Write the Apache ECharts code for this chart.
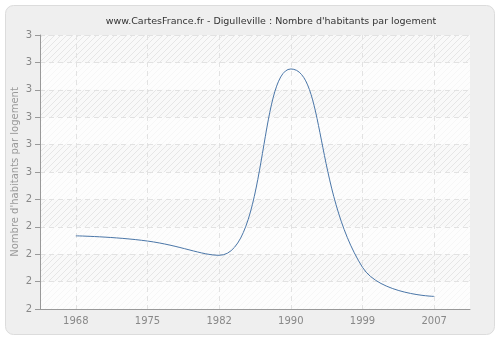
<!DOCTYPE html>
<html><head><meta charset="utf-8">
<script src="https://cdn.jsdelivr.net/npm/echarts@6/dist/echarts.min.js"></script>
<style>html,body{margin:0;padding:0;background:#fff}#c{width:500px;height:340px}</style>
</head><body><div id="c"></div>
<script>
var titleText = "www.CartesFrance.fr - Digulleville : Nombre d'habitants par logement";
var yAxisName = "Nombre d'habitants par logement";
var years = ['1968', '1975', '1982', '1990', '1999', '2007'];
var values = [2.267, 2.248, 2.196, 2.876, 2.152, 2.046];

var pc = document.createElement('canvas');
pc.width = 6; pc.height = 6;
var g = pc.getContext('2d');
g.fillStyle = '#f9f9f9'; g.fillRect(0, 0, 6, 6);
g.strokeStyle = '#e6e6e6'; g.lineWidth = 1;
g.beginPath();
g.moveTo(-1, 7); g.lineTo(7, -1);
g.moveTo(-4, 4); g.lineTo(4, -4);
g.moveTo(2, 10); g.lineTo(10, 2);
g.stroke();

var chart = echarts.init(document.getElementById('c'), null, {renderer: 'canvas'});
chart.setOption({
  animation: false,
  backgroundColor: '#ffffff',
  graphic: [{
    type: 'rect', z: -10, silent: true,
    shape: {x: 5.5, y: 5.5, width: 489, height: 329, r: 8},
    style: {fill: '#efefef', stroke: '#dcdcdc', lineWidth: 1}
  }],
  title: {
    text: titleText, left: 266, top: 12, textAlign: 'center',
    textStyle: {fontFamily: 'DejaVu Sans', fontSize: 9.5, fontWeight: 'normal', color: '#333'}
  },
  grid: {
    left: 40, right: 30, top: 35, bottom: 31, containLabel: false, outerBoundsMode: 'none', show: true,
    backgroundColor: {image: pc, repeat: 'repeat'}, borderWidth: 0
  },
  xAxis: {
    type: 'category', data: years, boundaryGap: true,
    axisLine: {lineStyle: {color: '#999', width: 1}},
    axisTick: {alignWithLabel: true, length: 5, lineStyle: {color: '#999'}},
    axisLabel: {color: '#888', fontFamily: 'DejaVu Sans', fontSize: 10, margin: 7},
    splitLine: {show: true, alignWithLabel: true, lineStyle: {color: '#e2e2e2', type: [5, 4], width: 1}}
  },
  yAxis: {
    type: 'value', min: 2, max: 3, interval: 0.1,
    name: yAxisName, nameLocation: 'middle', nameGap: 20, nameMoveOverlap: false,
    nameTextStyle: {color: '#999', fontFamily: 'DejaVu Sans', fontSize: 10},
    axisLine: {show: true, lineStyle: {color: '#999', width: 1}},
    axisTick: {show: true, length: 5, lineStyle: {color: '#999'}},
    axisLabel: {color: '#888', fontFamily: 'DejaVu Sans', fontSize: 10, margin: 8,
      formatter: function (v) { return String(Math.round(v + 1e-9)); }},
    splitLine: {show: true, lineStyle: {color: '#e2e2e2', type: [5, 4], width: 1}},
    splitArea: {show: true, areaStyle: {color: ['rgba(255,255,255,0.65)', 'rgba(255,255,255,0)']}}
  },
  series: [{
    type: 'line', data: values, smooth: 0.45, symbol: 'none', clip: true,
    lineStyle: {color: '#4a76a8', width: 1}
  }]
});
</script></body></html>
